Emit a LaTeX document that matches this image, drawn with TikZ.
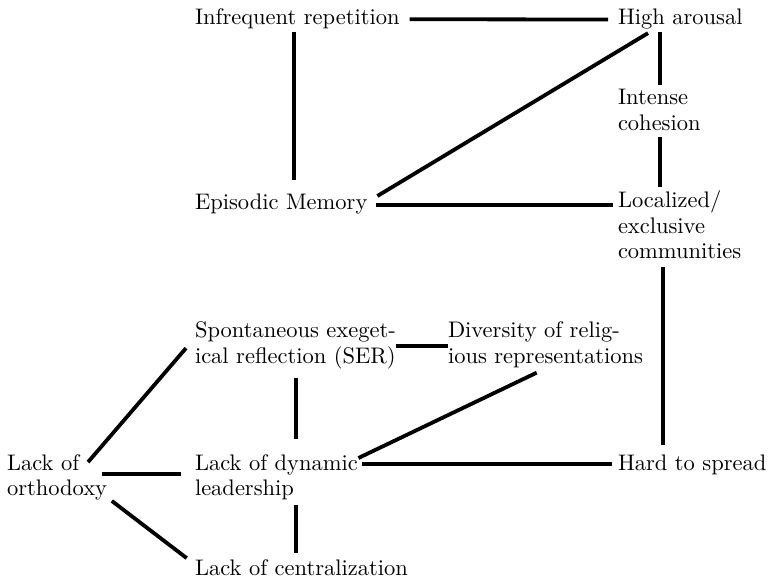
\documentclass[tikz,border=0pt]{standalone}
\usepackage{fontspec}
\setmainfont{lmroman10-regular.otf}
\usetikzlibrary{calc}
\begin{document}
\begin{tikzpicture}[x=1pt,y=-1pt,
  lbl/.style={inner sep=0pt,outer sep=0pt,anchor=base west,align=left,
    font=\fontsize{22.5}{25.5}\selectfont},
  link/.style={line width=3.8pt,black}]
\useasboundingbox (0,0) rectangle (772,580);
\node[lbl] (inf)  at (195,25)    {Infrequent repetition};
\node[lbl] (high) at (618,25)    {High arousal};
\node[lbl] (int)  at (618,130.5) {Intense\\cohesion};
\node[lbl] (epi)  at (195,210)   {Episodic Memory};
\node[lbl] (loc)  at (618,259)   {Localized/\\exclusive\\communities};
\node[lbl] (ser)  at (195,363.5) {Spontaneous exeget-\\ical reflection (SER)};
\node[lbl] (div)  at (448,363.5) {Diversity of relig-\\ious representations};
\node[lbl] (orth) at (7,495.5)   {Lack of\\orthodoxy};
\node[lbl] (dyn)  at (195,495.5) {Lack of dynamic\\leadership};
\node[lbl] (hard) at (618,470)   {Hard to spread};
\node[lbl] (cen)  at (195,575)   {Lack of centralization};
% connectors
\draw[link] ($(inf.east)+(10,0)$) -- ($(high.west)+(-10,0)$);
\draw[link] ($(inf.south)+(-3,2.5)$) -- ($(inf.south|-epi.north)+(-3,-14.5)$);
\draw[link] ($(int.north|-high.south)+(1,2.5)$) -- ($(int.north)+(1,-4.5)$);
\draw[link] ($(int.south)+(1,6)$) -- ($(int.south|-loc.north)+(1,-4.5)$);
\draw[link] ($(epi.east)+(10,-8.5)$) -- ($(high.south west)+(30,3.5)$);
\draw[link] ($(epi.east)+(9,0.5)$) -- ($(epi.east-|loc.west)+(-5,0.5)$);
\draw[link] ($(loc.south west)+(44.7,7.7)$) -- ($(loc.south west|-hard.north)+(44.7,-9)$);
\draw[link] (ser.east) -- (ser.east-|div.west);
\draw[link] ($(ser.south west)+(101,9)$) -- ($(ser.south west|-dyn.north)+(101,-15)$);
\draw[link] ($(div.south west)+(88.7,4.8)$) -- ($(dyn.north east)+(0.6,3.9)$);
\draw[link] ($(hard.west-|dyn.north east)+(4.6,0)$) -- ($(hard.west)+(-6,0)$);
\draw[link] ($(orth.north west)+(81,8)$) -- ($(ser.west)+(-9,2.5)$);
\draw[link] ($(orth.east)+(-5.3,-3)$) -- ($(orth.east-|dyn.west)+(-14.3,-3)$);
\draw[link] ($(orth.south east)+(4.7,0.8)$) -- ($(cen.north west)+(-8.3,-1)$);
\draw[link] ($(dyn.south west)+(101,5)$) -- ($(dyn.south west|-cen.north)+(101,-6)$);
\end{tikzpicture}
\end{document}
